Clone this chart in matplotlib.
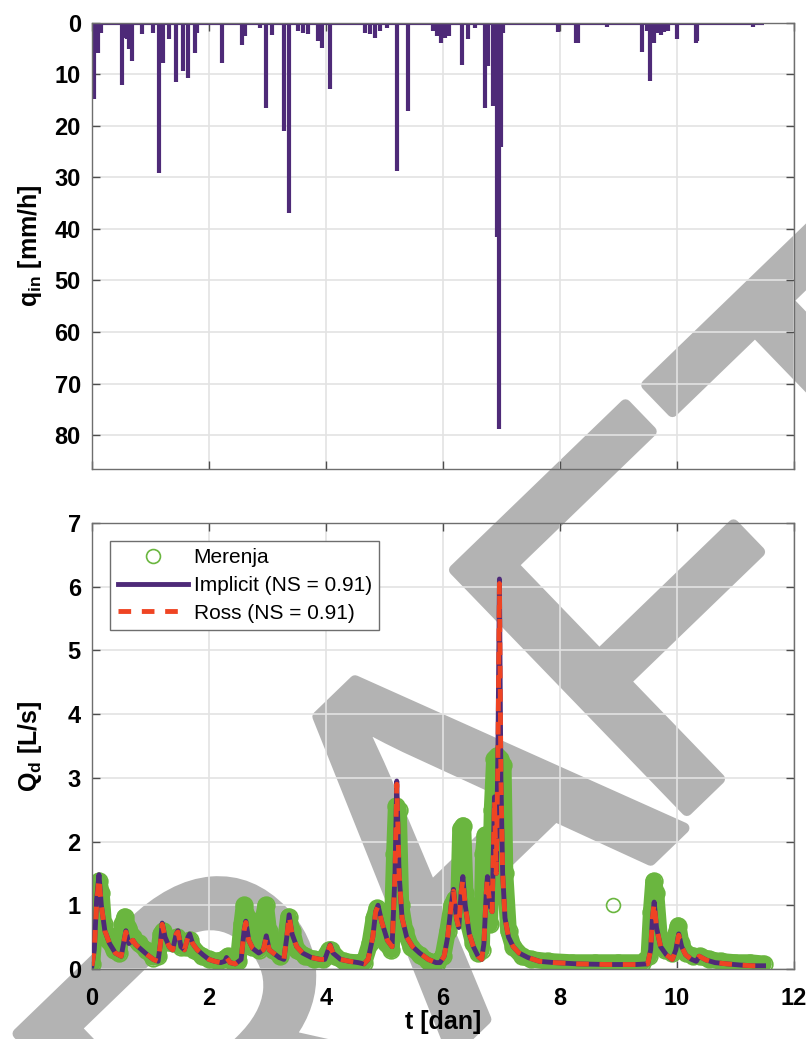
import numpy as np
import matplotlib.pyplot as plt
import matplotlib.patheffects as pe

plt.rcParams['font.family'] = ['Liberation Sans', 'DejaVu Sans']
plt.rcParams['mathtext.fontset'] = 'custom'
plt.rcParams['mathtext.rm'] = 'Liberation Sans:bold'
plt.rcParams['mathtext.bf'] = 'Liberation Sans:bold'
plt.rcParams['mathtext.it'] = 'Liberation Sans:bold'
plt.rcParams['mathtext.default'] = 'bf'

# ---- rainfall intensity spikes, q_in [mm/h] ----
rain_t = [0.03, 0.06, 0.11, 0.15, 0.52, 0.56, 0.60, 0.64, 0.68, 0.85, 1.05, 1.15, 1.21,
          1.31, 1.44, 1.56, 1.64, 1.76, 1.79, 2.03, 2.22, 2.57, 2.62, 2.87, 2.97, 3.07,
          3.29, 3.37, 3.53, 3.60, 3.70, 3.87, 3.93, 4.07, 4.66, 4.75, 4.84, 4.93, 5.05,
          5.21, 5.40, 5.83, 5.90, 5.96, 6.04, 6.10, 6.32, 6.42, 6.55, 6.72, 6.77, 6.86,
          6.89, 6.93, 6.95, 7.00, 7.03, 7.96, 8.27, 8.29, 8.31, 8.80, 9.41, 9.48, 9.545,
          9.61, 9.66, 9.72, 9.78, 9.85, 10.00, 10.33, 10.35, 11.30]
rain_q = [14.8, 3.0, 5.8, 2.0, 12.0, 3.0, 3.2, 5.0, 7.3, 2.2, 1.9, 29.2, 7.7,
          3.2, 11.5, 9.3, 10.6, 5.8, 2.0, 0.4, 7.7, 4.2, 2.5, 1.0, 16.5, 2.3,
          20.9, 36.8, 1.6, 1.9, 2.2, 3.5, 4.8, 12.9, 2.0, 2.2, 3.0, 1.6, 1.0,
          28.7, 17.1, 1.6, 2.5, 3.9, 3.0, 2.6, 8.1, 3.2, 1.0, 16.5, 8.4, 16.1,
          8.4, 41.5, 78.8, 24.0, 2.0, 1.8, 3.9, 3.6, 3.9, 0.8, 5.6, 1.6, 11.2,
          3.9, 2.0, 2.3, 1.8, 1.5, 3.1, 3.9, 3.5, 0.8]
rain_start = 0.0
rain_end = 11.48

# ---- simulated outflow, Implicit model [L/s] ----
imp_t = [0.00, 0.04, 0.08, 0.12, 0.16, 0.22, 0.30, 0.40, 0.50, 0.55, 0.58, 0.63, 0.70, 0.75,
         0.85, 0.95, 1.05, 1.13, 1.17, 1.20, 1.25, 1.32, 1.38, 1.44, 1.47, 1.52, 1.58, 1.64,
         1.67, 1.72, 1.80, 1.90, 2.00, 2.10, 2.20, 2.27, 2.30, 2.36, 2.45, 2.55, 2.60, 2.63,
         2.68, 2.75, 2.85, 2.93, 2.98, 3.03, 3.10, 3.20, 3.28, 3.33, 3.37, 3.42, 3.50, 3.60,
         3.75, 3.90, 3.98, 4.04, 4.07, 4.12, 4.25, 4.40, 4.55, 4.65, 4.72, 4.80, 4.85, 4.89,
         4.95, 5.05, 5.13, 5.18, 5.21, 5.25, 5.30, 5.38, 5.48, 5.60, 5.75, 5.88, 5.95, 6.02,
         6.08, 6.14, 6.18, 6.23, 6.27, 6.31, 6.34, 6.38, 6.45, 6.52, 6.60, 6.66, 6.70, 6.74,
         6.76, 6.80, 6.84, 6.88, 6.91, 6.94, 6.965, 6.99, 7.02, 7.06, 7.12, 7.20, 7.30, 7.45,
         7.65, 7.90, 8.30, 8.80, 9.30, 9.50, 9.55, 9.58, 9.61, 9.65, 9.72, 9.82, 9.92, 9.98,
         10.03, 10.08, 10.15, 10.25, 10.33, 10.38, 10.42, 10.50, 10.65, 10.85, 11.10, 11.30, 11.48]
imp_q = [0.05, 0.30, 1.10, 1.48, 1.00, 0.60, 0.40, 0.25, 0.20, 0.45, 0.60, 0.40, 0.45, 0.38,
         0.30, 0.22, 0.15, 0.12, 0.40, 0.72, 0.50, 0.35, 0.30, 0.55, 0.60, 0.35, 0.30, 0.50,
         0.55, 0.40, 0.30, 0.22, 0.15, 0.12, 0.10, 0.12, 0.18, 0.10, 0.08, 0.15, 0.60, 0.75,
         0.45, 0.32, 0.25, 0.30, 0.52, 0.30, 0.25, 0.18, 0.15, 0.50, 0.85, 0.55, 0.35, 0.25,
         0.18, 0.15, 0.15, 0.30, 0.38, 0.25, 0.15, 0.12, 0.10, 0.08, 0.15, 0.50, 0.90, 1.00,
         0.75, 0.45, 0.35, 1.50, 2.95, 1.50, 0.80, 0.50, 0.35, 0.25, 0.15, 0.10, 0.10, 0.20,
         0.50, 1.00, 1.25, 0.80, 0.65, 1.20, 1.45, 1.00, 0.55, 0.35, 0.20, 0.15, 0.40, 1.20,
         1.45, 1.00, 0.90, 2.70, 1.50, 3.50, 6.12, 3.00, 1.50, 0.80, 0.50, 0.35, 0.25, 0.18,
         0.12, 0.10, 0.08, 0.07, 0.07, 0.08, 0.30, 0.80, 1.05, 0.65, 0.35, 0.22, 0.15, 0.30,
         0.55, 0.35, 0.22, 0.15, 0.12, 0.20, 0.18, 0.14, 0.10, 0.08, 0.06, 0.05, 0.05]

# ---- simulated outflow, Ross model [L/s] ----
ross_t = imp_t
ross_q = [0.05, 0.30, 1.05, 1.42, 1.00, 0.60, 0.40, 0.25, 0.20, 0.45, 0.58, 0.40, 0.45, 0.38,
          0.30, 0.22, 0.15, 0.12, 0.40, 0.70, 0.50, 0.35, 0.30, 0.55, 0.58, 0.35, 0.30, 0.50,
          0.53, 0.40, 0.30, 0.22, 0.15, 0.12, 0.10, 0.12, 0.18, 0.10, 0.08, 0.15, 0.60, 0.73,
          0.45, 0.32, 0.25, 0.30, 0.50, 0.30, 0.25, 0.18, 0.15, 0.50, 0.83, 0.55, 0.35, 0.25,
          0.18, 0.15, 0.15, 0.30, 0.37, 0.25, 0.15, 0.12, 0.10, 0.08, 0.15, 0.50, 0.90, 0.98,
          0.75, 0.45, 0.35, 1.50, 2.90, 1.50, 0.80, 0.50, 0.35, 0.25, 0.15, 0.10, 0.10, 0.20,
          0.50, 1.00, 1.22, 0.80, 0.65, 1.20, 1.40, 1.00, 0.55, 0.35, 0.20, 0.15, 0.40, 1.20,
          1.42, 1.00, 0.90, 2.65, 1.50, 3.40, 6.05, 3.00, 1.50, 0.80, 0.50, 0.35, 0.25, 0.18,
          0.12, 0.10, 0.08, 0.07, 0.07, 0.08, 0.30, 0.80, 1.03, 0.65, 0.35, 0.22, 0.15, 0.30,
          0.53, 0.35, 0.22, 0.15, 0.12, 0.20, 0.18, 0.14, 0.10, 0.08, 0.06, 0.05, 0.05]

# ---- measured outflow (Merenja) [L/s] ----
mer_t = [0.00, 0.04, 0.08, 0.12, 0.16, 0.20, 0.28, 0.38, 0.46, 0.52, 0.56, 0.62, 0.70, 0.80,
         0.92, 1.05, 1.13, 1.18, 1.22, 1.30, 1.38, 1.45, 1.52, 1.60, 1.67, 1.75, 1.88, 2.00,
         2.15, 2.25, 2.32, 2.40, 2.50, 2.56, 2.60, 2.66, 2.74, 2.85, 2.92, 2.97, 3.02, 3.10,
         3.22, 3.30, 3.36, 3.42, 3.50, 3.65, 3.80, 3.95, 4.05, 4.08, 4.15, 4.30, 4.50, 4.65,
         4.75, 4.82, 4.87, 4.93, 5.02, 5.12, 5.17, 5.20, 5.24, 5.28, 5.35, 5.45, 5.60, 5.75,
         5.90, 6.00, 6.08, 6.15, 6.20, 6.26, 6.30, 6.34, 6.38, 6.44, 6.52, 6.60, 6.66, 6.69,
         6.72, 6.76, 6.80, 6.84, 6.88, 6.93, 6.98, 7.03, 7.06, 7.12, 7.20, 7.35, 7.50, 7.80,
         8.20, 8.60, 9.00, 9.40, 9.52, 9.56, 9.60, 9.64, 9.70, 9.80, 9.92, 9.98, 10.02, 10.07,
         10.15, 10.28, 10.40, 10.55, 10.75, 11.00, 11.25, 11.48]
mer_q = [0.08, 0.60, 1.20, 1.38, 1.20, 0.70, 0.45, 0.30, 0.25, 0.70, 0.82, 0.65, 0.50, 0.40,
         0.30, 0.18, 0.20, 0.55, 0.60, 0.42, 0.40, 0.50, 0.35, 0.35, 0.45, 0.30, 0.20, 0.15,
         0.12, 0.15, 0.20, 0.12, 0.12, 0.70, 1.00, 0.80, 0.35, 0.30, 0.75, 1.00, 0.60, 0.30,
         0.20, 0.40, 0.82, 0.60, 0.30, 0.20, 0.15, 0.15, 0.30, 0.30, 0.20, 0.12, 0.10, 0.10,
         0.40, 0.80, 0.95, 0.80, 0.40, 0.30, 1.80, 2.55, 2.50, 1.00, 0.60, 0.35, 0.22, 0.12,
         0.10, 0.20, 0.60, 1.00, 1.10, 0.80, 2.20, 2.25, 1.20, 0.70, 0.40, 0.25, 0.30, 1.80,
         2.10, 1.00, 0.70, 2.50, 3.30, 3.35, 3.30, 3.20, 1.50, 0.60, 0.35, 0.20, 0.15, 0.12,
         0.10, 0.10, 0.10, 0.10, 0.20, 0.90, 1.38, 1.20, 0.50, 0.30, 0.25, 0.55, 0.68, 0.40,
         0.25, 0.20, 0.20, 0.15, 0.12, 0.10, 0.10, 0.08]
# isolated measurement
mer_out_t = [8.90]
mer_out_q = [1.00]

purple = '#4e2a78'
red = '#ef4423'
green = '#6ab63f'
wm_gray = '#b3b3b3'

fig = plt.figure(figsize=(8.06, 10.39), dpi=100)

# watermark behind the axes: letters placed one by one (baseline centres in pixels)
wm_letters = ['D', 'R', 'A', 'F', 'T']
wm_x = [88, 348, 568, 765, 978]
wm_y = [1416, 1180, 940, 735, 530]
for ch, px, py in zip(wm_letters, wm_x, wm_y):
    t = fig.text(px / 806, 1 - py / 1039, ch, rotation=44, rotation_mode='anchor',
                 ha='center', va='baseline', fontsize=350, color=wm_gray, zorder=-5,
                 family='Liberation Sans')
    t.set_path_effects([pe.Stroke(linewidth=8, foreground=wm_gray, joinstyle='round',
                                  capstyle='round'), pe.Normal()])

ax1 = fig.add_axes([0.1141, 0.5486, 0.871, 0.4293])
ax2 = fig.add_axes([0.1141, 0.0674, 0.871, 0.4293])

for ax in (ax1, ax2):
    ax.set_facecolor('none')
    ax.grid(True, color='#e3e3e3', linewidth=1.2)
    ax.set_axisbelow(True)
    ax.tick_params(direction='in', length=6, width=1.0, color='#4d4d4d',
                   top=True, right=True, labelsize=17, pad=8)
    ax.tick_params(axis='x', pad=13)
    for s in ax.spines.values():
        s.set_color('#6e6e6e')
        s.set_linewidth(1.0)
    ax.set_xlim(0, 12)
    ax.set_xticks(np.arange(0, 13, 2))

# top panel: rainfall
ax1.vlines(rain_t, 0, rain_q, color=purple, linewidth=3)
ax1.hlines(0, rain_start, rain_end, color=purple, linewidth=3)
ax1.set_ylim(86.6, 0)
ax1.set_yticks(np.arange(0, 81, 10))
ax1.set_xticklabels([])
ax1.set_ylabel('q$_{in}$ [mm/h]', fontsize=18, fontweight='bold')
ax1.yaxis.set_label_coords(-0.068, 0.5)

# bottom panel: outflow
ax2.plot(mer_t, mer_q, color=green, linewidth=12, solid_capstyle='round',
         solid_joinstyle='round', zorder=2)
ax2.plot(mer_t, mer_q, 'o', markersize=12, markerfacecolor='none',
         markeredgecolor=green, markeredgewidth=1.2, zorder=2, label='Merenja')
ax2.plot(mer_out_t, mer_out_q, 'o', markersize=10, markerfacecolor='none',
         markeredgecolor=green, markeredgewidth=1.2, zorder=2)
ax2.plot(imp_t, imp_q, color=purple, linewidth=3.5, zorder=3, label='Implicit (NS = 0.91)')
ax2.plot(ross_t, ross_q, color=red, linewidth=3.5, linestyle=(0, (2.6, 2.2)), zorder=4,
         label='Ross (NS = 0.91)')
ax2.set_ylim(0, 7)
ax2.set_yticks(np.arange(0, 8, 1))
ax2.set_ylabel('Q$_{d}$ [L/s]', fontsize=18, fontweight='bold')
ax2.yaxis.set_label_coords(-0.068, 0.5)
ax2.set_xlabel('t [dan]', fontsize=18, fontweight='bold')
ax2.xaxis.set_label_coords(0.5, -0.092)

leg = ax2.legend(loc='upper left', bbox_to_anchor=(0.026, 0.96), borderaxespad=0,
                 fontsize=15, fancybox=False, framealpha=1, edgecolor='#6e6e6e',
                 handlelength=3.4, handletextpad=0.25, borderpad=0.35, labelspacing=0.42)
leg.get_frame().set_linewidth(1.0)
leg.legend_handles[0].set_markersize(10)

for ax in (ax1, ax2):
    for lab in ax.get_xticklabels() + ax.get_yticklabels():
        lab.set_fontweight('bold')

fig.savefig('out.png', dpi=100)
